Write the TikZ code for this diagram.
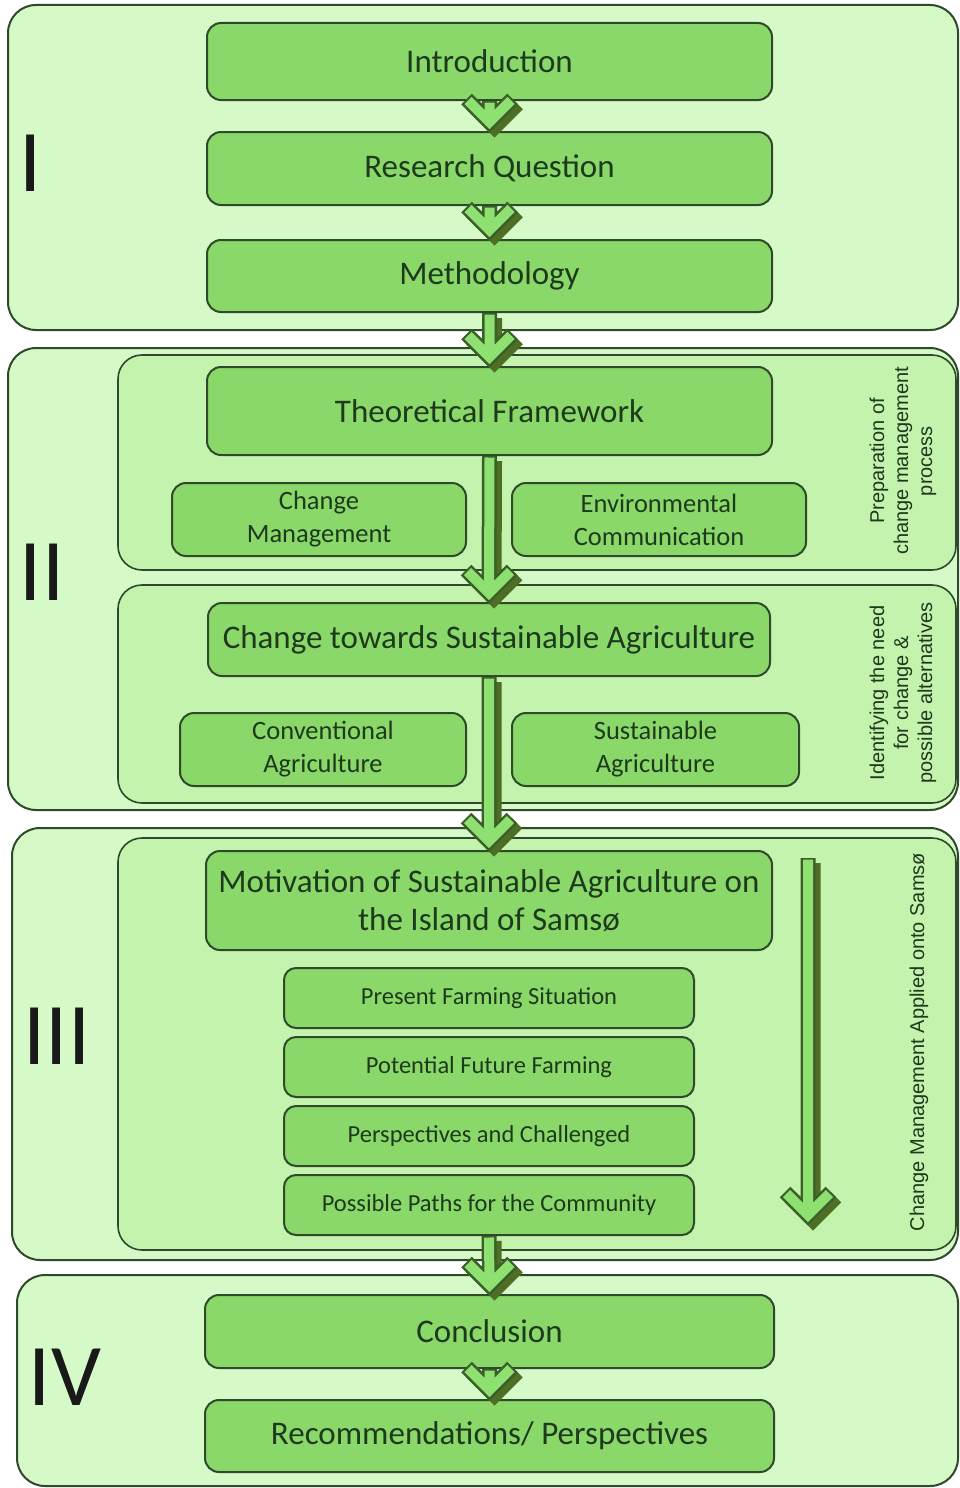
\documentclass[tikz,border=0pt]{standalone}
\usepackage{fontspec}
\setmainfont{Carlito}
\newfontfamily\arialf{Liberation Sans}
\usetikzlibrary{calc}
\definecolor{secfill}{HTML}{D6FAC7}
\definecolor{innfill}{HTML}{C4F3AE}
\definecolor{nodefill}{HTML}{8AD86A}
\definecolor{bdr}{HTML}{2E4A2A}
\definecolor{txt}{HTML}{1E3A1C}
\definecolor{arrlight}{HTML}{8EE070}
\definecolor{arrdark}{HTML}{3A5F28}
\definecolor{arrshadow}{HTML}{4E6E26}
\tikzset{
  section/.style={draw=bdr, line width=2pt, fill=secfill, rounded corners=28pt},
  inner/.style={draw=bdr, line width=1.6pt, fill=innfill, rounded corners=24pt},
  mainbox/.style={draw=bdr, line width=2pt, fill=nodefill, rounded corners=14pt, text=txt, inner sep=0pt, align=center, font=\fontsize{33}{38}\selectfont},
  subbox/.style={mainbox, font=\fontsize{26.5}{33}\selectfont},
  listbox/.style={mainbox, rounded corners=12pt, font=\fontsize{24.5}{28}\selectfont},
  numeral/.style={text=black!90, inner sep=0pt, font=\fontsize{88}{90}\selectfont},
  sidelabel/.style={rotate=90, text=txt, align=center, inner sep=0pt, font=\arialf\fontsize{20}{24}\selectfont},
}
\newcommand\blockarrow[2]{%
  \path (#1) coordinate (ba-s) ($(#2)+(0,-9)$) coordinate (ba-e);
  \draw[arrshadow, line width=15pt, line join=miter]
    ($(ba-s)+(5,5)$) -- ($(ba-e)+(5,5)$)
    ($(ba-e)+(-18,-18)$) -- ($(ba-e)+(5,5)$) -- ($(ba-e)+(28,-18)$);
  \draw[arrdark, line width=15pt, line join=miter]
    (ba-s) -- (ba-e)
    ($(ba-e)+(-23,-23)$) -- (ba-e) -- ($(ba-e)+(23,-23)$);
  \draw[arrlight, line width=10pt, line join=miter]
    ($(ba-s)+(0,1.5)$) -- (ba-e)
    ($(ba-e)+(-21.5,-21.5)$) -- (ba-e) -- ($(ba-e)+(21.5,-21.5)$);
}
\begin{document}
\begin{tikzpicture}[x=1pt,y=-1pt]
\useasboundingbox (0,0) rectangle (959,1488);
\fill[white] (0,0) rectangle (959,1488);
% sections
\draw[section] (8,5) rectangle (958,330);
\draw[section] (8,348) rectangle (958,810);
\draw[inner] (118,355) rectangle (956,570);
\draw[inner] (118,585) rectangle (956,803);
\draw[section] (12,828) rectangle (958,1260);
\draw[inner] (118,838) rectangle (956,1250);
\draw[section] (17,1275) rectangle (958,1486);
% numerals
\node[numeral] (nI) at (31,163) {I};
\node[numeral] (nII) at (42,572) {II};
\node[numeral] (nIII) at (57,1036) {III};
\node[numeral] (nIV) at (65,1377) {IV};
% nodes
\node[mainbox, minimum width=565pt, minimum height=77pt] (intro) at (489.5,61.5) {Introduction};
\node[mainbox, minimum width=565pt, minimum height=73pt] (rq) at (489.5,168.5) {Research Question};
\node[mainbox, minimum width=565pt, minimum height=72pt] (meth) at (489.5,276) {Methodology};
\node[mainbox, minimum width=565pt, minimum height=88pt] (tf) at (489.5,411) {Theoretical Framework};
\node[subbox, minimum width=294pt, minimum height=73pt] (cm) at (319,519.5) {Change\\Management};
\node[subbox, minimum width=294pt, minimum height=73pt] (ec) at (659,519.5) {Environmental\\Communication};
\node[mainbox, minimum width=562pt, minimum height=73pt] (cts) at (489,639.5) {Change towards Sustainable Agriculture};
\node[subbox, minimum width=286pt, minimum height=73pt] (ca) at (323,749.5) {Conventional\\Agriculture};
\node[subbox, minimum width=287pt, minimum height=73pt] (sa) at (655.5,749.5) {Sustainable\\Agriculture};
\node[mainbox, minimum width=566pt, minimum height=99pt] (mot) at (489,900.5) {Motivation of Sustainable Agriculture on\\the Island of Samsø};
\node[listbox, minimum width=410pt, minimum height=60pt] (pfs) at (489,998) {Present Farming Situation};
\node[listbox, minimum width=410pt, minimum height=60pt] (pff) at (489,1067) {Potential Future Farming};
\node[listbox, minimum width=410pt, minimum height=60pt] (pac) at (489,1136) {Perspectives and Challenged};
\node[listbox, minimum width=410pt, minimum height=60pt] (ppc) at (489,1205) {Possible Paths for the Community};
\node[mainbox, minimum width=569pt, minimum height=73pt] (conc) at (489.5,1331.5) {Conclusion};
\node[mainbox, minimum width=569pt, minimum height=72pt] (rec) at (489.5,1436) {Recommendations/ Perspectives};
% side labels
\node[sidelabel] (prep) at (903,461) {Preparation of\\change management\\process};
\node[sidelabel] (ident) at (903,693) {Identifying the need\\for change \&\\possible alternatives};
\node[sidelabel] (cmas) at (919,1042) {Change Management Applied onto Samsø};
% arrows
\blockarrow{intro.south}{rq.north}
\blockarrow{rq.south}{meth.north}
\blockarrow{meth.south}{tf.north}
\blockarrow{tf.south}{cts.north}
\blockarrow{cts.south}{mot.north}
\blockarrow{ppc.south}{conc.north}
\blockarrow{conc.south}{rec.north}
\coordinate (sidetop) at (808,858);
\coordinate (sidebot) at (808,1224);
\blockarrow{sidetop}{sidebot}
\end{tikzpicture}
\end{document}
